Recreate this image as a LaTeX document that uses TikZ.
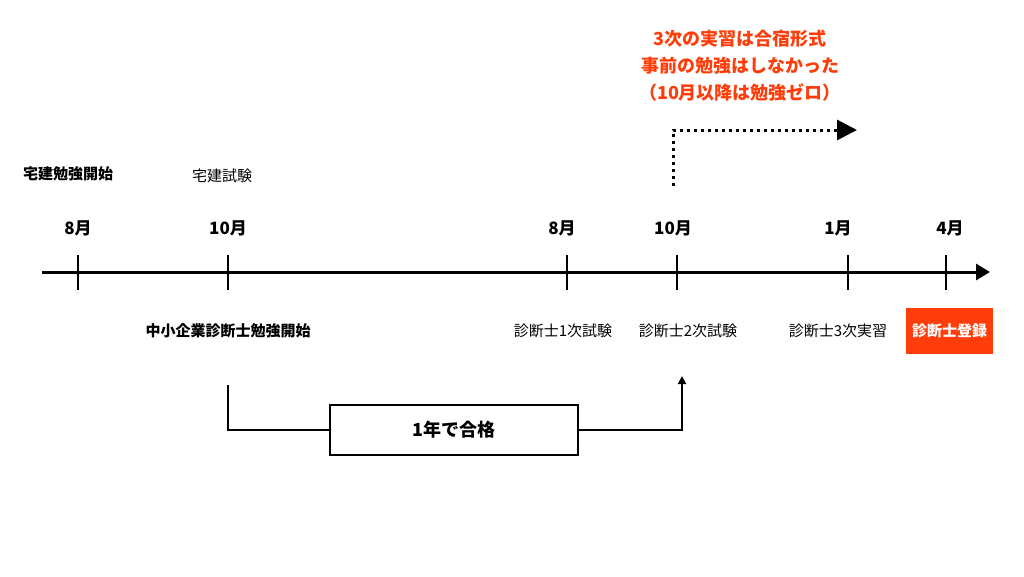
\documentclass[tikz,border=0pt]{standalone}
\usepackage{fontspec}
\setmainfont{Noto Sans CJK JP}
\usepackage{tikz}
\usetikzlibrary{arrows.meta}
\definecolor{jred}{HTML}{FF3D0A}

\begin{document}
\begin{tikzpicture}[x=1pt, y=-1pt,
  every node/.style={inner sep=0pt, outer sep=0pt},
  month/.style={font=\fontsize{17}{17}\selectfont\bfseries},
  event/.style={font=\fontsize{15}{15}\selectfont},
  tick/.style={line width=1.3pt}]
\useasboundingbox (0,0) rectangle (1024,576);

\draw[line width=3pt, -{Triangle[length=14pt,width=16pt]}] (42,272) -- (990,272);
\foreach \x in {78,228,567,677,848,946}
  \draw[tick] (\x,255) -- (\x,290);

\node[month] (m1) at (78,228) {8月};
\node[month] (m2) at (228,228) {10月};
\node[month] (m3) at (562,228) {8月};
\node[month] (m4) at (673,228) {10月};
\node[month] (m5) at (838,228) {1月};
\node[month] (m6) at (950,228) {4月};

\node[event, font=\fontsize{15}{15}\selectfont\bfseries] (tk) at (68,174) {宅建勉強開始};
\node[event] (tks) at (222,176) {宅建試験};
\node[event, font=\fontsize{15}{15}\selectfont\bfseries] (sd) at (228,331) {中小企業診断士勉強開始};
\node[event] (e1) at (563,331) {診断士1次試験};
\node[event] (e2) at (688,331) {診断士2次試験};
\node[event] (e3) at (838,331) {診断士3次実習};
\node[fill=jred, text=white, font=\fontsize{15}{15}\selectfont\bfseries,
  minimum width=87pt, minimum height=46pt] (reg) at (949.5,331) {診断士登録};

\node[draw, line width=1.2pt, minimum width=248pt, minimum height=50pt,
  font=\fontsize{18}{18}\selectfont\bfseries] (pass) at (454,430) {1年で合格};
\coordinate (bs) at (228,385);
\coordinate (be) at (682,376);
\draw[line width=2.5pt] (bs) |- (pass.west);
\draw[line width=2.5pt, -{Triangle[length=8pt,width=8pt]}] (pass.east) -| (be);

\coordinate (ds) at (673,186);
\coordinate (de) at (857,130);
\draw[line width=3pt, dash pattern=on 3pt off 4pt,
  -{Triangle[length=20pt,width=20pt]}] (ds) |- (de);

\node[text=jred, align=center, font=\fontsize{18}{27}\selectfont\bfseries] (note) at (740,66)
  {3次の実習は合宿形式\\事前の勉強はしなかった\\（10月以降は勉強ゼロ）};
\end{tikzpicture}
\end{document}
